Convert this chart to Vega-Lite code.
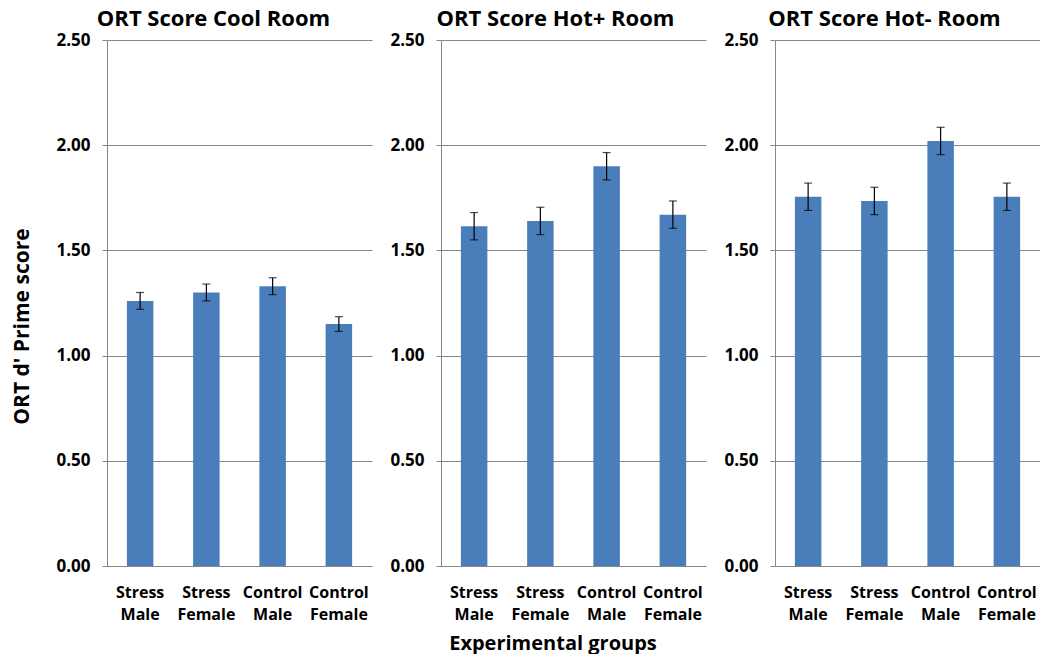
{
  "$schema": "https://vega.github.io/schema/vega-lite/v6.json",
  "background": "white",
  "padding": {"left": 11, "top": 8, "right": 0, "bottom": 0},
  "datasets": {
    "ort": [
      {"room": "Cool", "group": "Stress Male", "mean": 1.26, "lo": 1.22, "hi": 1.30},
      {"room": "Cool", "group": "Stress Female", "mean": 1.30, "lo": 1.26, "hi": 1.34},
      {"room": "Cool", "group": "Control Male", "mean": 1.33, "lo": 1.29, "hi": 1.37},
      {"room": "Cool", "group": "Control Female", "mean": 1.15, "lo": 1.115, "hi": 1.185},
      {"room": "Hot+", "group": "Stress Male", "mean": 1.615, "lo": 1.55, "hi": 1.68},
      {"room": "Hot+", "group": "Stress Female", "mean": 1.64, "lo": 1.575, "hi": 1.705},
      {"room": "Hot+", "group": "Control Male", "mean": 1.90, "lo": 1.835, "hi": 1.965},
      {"room": "Hot+", "group": "Control Female", "mean": 1.67, "lo": 1.605, "hi": 1.735},
      {"room": "Hot-", "group": "Stress Male", "mean": 1.755, "lo": 1.69, "hi": 1.82},
      {"room": "Hot-", "group": "Stress Female", "mean": 1.735, "lo": 1.67, "hi": 1.80},
      {"room": "Hot-", "group": "Control Male", "mean": 2.02, "lo": 1.955, "hi": 2.085},
      {"room": "Hot-", "group": "Control Female", "mean": 1.755, "lo": 1.69, "hi": 1.82}
    ]
  },
  "title": {
    "text": "Experimental groups",
    "orient": "bottom",
    "anchor": "middle",
    "frame": "bounds",
    "font": "Open Sans",
    "fontSize": 20,
    "fontWeight": "bold",
    "color": "black",
    "offset": 12,
    "dx": 27
  },
  "config": {
    "font": "Open Sans",
    "view": {"stroke": null},
    "axis": {
      "labelFont": "Open Sans",
      "labelFontWeight": "bold",
      "labelColor": "black",
      "titleFont": "Open Sans",
      "titleFontWeight": "bold",
      "titleColor": "black",
      "domainColor": "#868686",
      "tickColor": "#868686",
      "gridColor": "#868686"
    },
    "title": {"font": "Open Sans", "fontWeight": "bold", "color": "black"}
  },
  "spacing": 17,
  "hconcat": [
    {
      "width": 265,
      "height": 526,
      "title": {"text": "ORT Score Cool Room", "fontSize": 22, "anchor": "middle", "frame": "group", "dx": -26, "offset": 0},
      "data": {"name": "ort"},
      "transform": [{"filter": "datum.room === 'Cool'"}],
      "encoding": {
        "x": {
          "field": "group", "type": "nominal",
          "sort": ["Stress Male", "Stress Female", "Control Male", "Control Female"],
          "scale": {"paddingInner": 0.6, "paddingOuter": 0.3},
          "axis": {"title": null, "labelAngle": 0, "labelExpr": "split(datum.label, ' ')", "labelFontSize": 16, "labelLineHeight": 22, "labelPadding": 18, "ticks": false}
        }
      },
      "layer": [
        {
          "mark": {"type": "bar", "color": "#4a7ebb"},
          "encoding": {
            "y": {
              "field": "mean", "type": "quantitative",
              "scale": {"domain": [0, 2.5], "nice": false},
              "axis": {"title": "ORT d' Prime score", "titleFontSize": 21, "titleY": 286, "titlePadding": 23, "values": [0, 0.5, 1, 1.5, 2, 2.5], "format": ".2f", "labelFontSize": 17, "tickSize": 5, "labelPadding": 12}
            }
          }
        },
        {
          "mark": {"type": "rule", "color": "black", "strokeWidth": 1.2},
          "encoding": {"y": {"field": "lo", "type": "quantitative"}, "y2": {"field": "hi"}}
        },
        {
          "mark": {"type": "tick", "color": "black", "size": 8, "thickness": 1.2, "orient": "horizontal"},
          "encoding": {"y": {"field": "lo", "type": "quantitative"}}
        },
        {
          "mark": {"type": "tick", "color": "black", "size": 8, "thickness": 1.2, "orient": "horizontal"},
          "encoding": {"y": {"field": "hi", "type": "quantitative"}}
        }
      ]
    },
    {
      "width": 265,
      "height": 526,
      "title": {"text": "ORT Score Hot+ Room", "fontSize": 22, "anchor": "middle", "frame": "group", "dx": -18, "offset": 0},
      "data": {"name": "ort"},
      "transform": [{"filter": "datum.room === 'Hot+'"}],
      "encoding": {
        "x": {
          "field": "group", "type": "nominal",
          "sort": ["Stress Male", "Stress Female", "Control Male", "Control Female"],
          "scale": {"paddingInner": 0.6, "paddingOuter": 0.3},
          "axis": {"title": null, "labelAngle": 0, "labelExpr": "split(datum.label, ' ')", "labelFontSize": 16, "labelLineHeight": 22, "labelPadding": 18, "ticks": false}
        }
      },
      "layer": [
        {
          "mark": {"type": "bar", "color": "#4a7ebb"},
          "encoding": {
            "y": {
              "field": "mean", "type": "quantitative",
              "scale": {"domain": [0, 2.5], "nice": false},
              "axis": {"title": null, "values": [0, 0.5, 1, 1.5, 2, 2.5], "format": ".2f", "labelFontSize": 17, "tickSize": 5, "labelPadding": 12}
            }
          }
        },
        {
          "mark": {"type": "rule", "color": "black", "strokeWidth": 1.2},
          "encoding": {"y": {"field": "lo", "type": "quantitative"}, "y2": {"field": "hi"}}
        },
        {
          "mark": {"type": "tick", "color": "black", "size": 8, "thickness": 1.2, "orient": "horizontal"},
          "encoding": {"y": {"field": "lo", "type": "quantitative"}}
        },
        {
          "mark": {"type": "tick", "color": "black", "size": 8, "thickness": 1.2, "orient": "horizontal"},
          "encoding": {"y": {"field": "hi", "type": "quantitative"}}
        }
      ]
    },
    {
      "width": 265,
      "height": 526,
      "title": {"text": "ORT Score Hot- Room", "fontSize": 22, "anchor": "middle", "frame": "group", "dx": -23, "offset": 0},
      "data": {"name": "ort"},
      "transform": [{"filter": "datum.room === 'Hot-'"}],
      "encoding": {
        "x": {
          "field": "group", "type": "nominal",
          "sort": ["Stress Male", "Stress Female", "Control Male", "Control Female"],
          "scale": {"paddingInner": 0.6, "paddingOuter": 0.3},
          "axis": {"title": null, "labelAngle": 0, "labelExpr": "split(datum.label, ' ')", "labelFontSize": 16, "labelLineHeight": 22, "labelPadding": 18, "ticks": false}
        }
      },
      "layer": [
        {
          "mark": {"type": "bar", "color": "#4a7ebb"},
          "encoding": {
            "y": {
              "field": "mean", "type": "quantitative",
              "scale": {"domain": [0, 2.5], "nice": false},
              "axis": {"title": null, "values": [0, 0.5, 1, 1.5, 2, 2.5], "format": ".2f", "labelFontSize": 17, "tickSize": 5, "labelPadding": 12}
            }
          }
        },
        {
          "mark": {"type": "rule", "color": "black", "strokeWidth": 1.2},
          "encoding": {"y": {"field": "lo", "type": "quantitative"}, "y2": {"field": "hi"}}
        },
        {
          "mark": {"type": "tick", "color": "black", "size": 8, "thickness": 1.2, "orient": "horizontal"},
          "encoding": {"y": {"field": "lo", "type": "quantitative"}}
        },
        {
          "mark": {"type": "tick", "color": "black", "size": 8, "thickness": 1.2, "orient": "horizontal"},
          "encoding": {"y": {"field": "hi", "type": "quantitative"}}
        }
      ]
    }
  ]
}
